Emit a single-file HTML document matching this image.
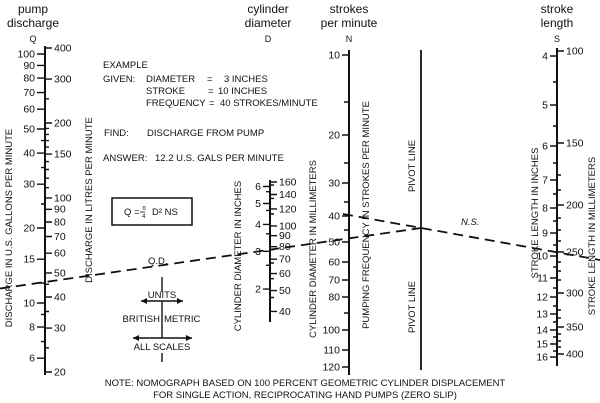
<!DOCTYPE html>
<html><head><meta charset="utf-8"><style>
html,body{margin:0;padding:0;background:#fff;}
svg{display:block;font-family:"Liberation Sans",Arial,sans-serif;fill:#111;}
</style></head><body>
<svg width="600" height="403" viewBox="0 0 600 403" xmlns="http://www.w3.org/2000/svg">
<g font-size="12" text-anchor="middle">
<text x="33" y="13">pump</text><text x="33" y="27">discharge</text><text x="33" y="42" font-size="9">Q</text>
<text x="268" y="13">cylinder</text><text x="268" y="27">diameter</text><text x="268" y="42" font-size="9">D</text>
<text x="349" y="13">strokes</text><text x="349" y="27">per minute</text><text x="349" y="42" font-size="9">N</text>
<text x="557" y="13">stroke</text><text x="557" y="27">length</text><text x="557" y="42" font-size="9">S</text>
</g>
<g stroke="#111" fill="none">
<line x1="45" y1="46" x2="45" y2="375" stroke-width="2"/>
<line x1="270" y1="180" x2="270" y2="322" stroke-width="2"/>
<line x1="349" y1="50" x2="349" y2="375" stroke-width="2"/>
<line x1="421" y1="50" x2="421" y2="370" stroke-width="1.8"/>
<line x1="557" y1="48" x2="557" y2="366" stroke-width="2"/>
<g stroke-width="1.4">
<path d="M37 54H45M37 65.4H45M37 78.1H45M37 92.6H45M37 109.2H45M37 129H45M37 153.1H45M37 184.2H45M37 228H45M37 259.2H45M37 303H45M37 327.1H45M37 358.2H45"/>
<path d="M41 341.6H45M41 314.4H45M41 204H45M41 167.6H45M41 140.6H45M41 283H45"/>
<path d="M45 48H52M45 79.1H52M45 123H52M45 154.1H52M45 197.9H52M45 209.3H52M45 222H52M45 236.5H52M45 253.2H52M45 272.9H52M45 297H52M45 328.1H52M45 372H52"/>
<path d="M45 347.8H49M45 311.5H49M45 284.3H49M45 187.7H49M45 178.2H49M45 169.5H49M45 161.6H49M45 147.1H49M45 140.6H49M45 134.4H49M45 128.4H49M45 98.8H49"/>
<path d="M263 186.5H270M263 203.5H270M263 224.4H270M263 251.3H270M263 289.1H270"/>
<path d="M266 191.7H270M266 210.4H270M266 233.8H270M266 265.3H270"/>
<path d="M270 182H277M270 194.5H277M270 208.9H277M270 225.9H277M270 235.7H277M270 246.7H277M270 259.2H277M270 273.6H277M270 290.6H277M270 311.4H277"/>
<path d="M270 185H274M270 198.4H274M270 214H274M270 249.7H274M270 263H274M270 278.7H274M270 297.5H274"/>
<path d="M342 55H349M342 135H349M342 183H349M342 216H349M342 242H349M342 262H349M342 280H349M342 297H349M342 330H349M342 350H349M342 367H349"/>
<path d="M344 102H349M344 163H349M344 202H349M344 230H349M344 313H349"/>
<path d="M550 56H557M550 105H557M550 146H557M550 180H557M550 208H557M550 233H557M550 256H557M550 278H557M550 297H557M550 314H557M550 330H557M550 344H557M550 357H557"/>
<path d="M553 82H557M553 126H557M553 163H557M553 194H557M553 221H557M553 245H557M553 267H557M553 288H557M553 306H557M553 322H557M553 337H557M553 351H557"/>
<path d="M557 51H564M557 143H564M557 205H564M557 252H564M557 293H564M557 327H564M557 354H564"/>
<path d="M557 175H561M557 190H561M557 218H561M557 230H561M557 241H561M557 262H561M557 271H561M557 280H561M557 310H561M557 318H561M557 334H561M557 341H561M557 347H561"/>
</g>
<line x1="0" y1="288.5" x2="421" y2="228" stroke-width="1.8" stroke-dasharray="10,6"/>
<line x1="343" y1="214" x2="600" y2="260" stroke-width="1.8" stroke-dasharray="10,6"/>
<rect x="112" y="198" width="80" height="27" stroke-width="1.5"/>
<g stroke-width="1.4">
<path d="M162 277V292M162 301V338M162 353V362"/>
<path d="M141 301H183M133 338H192"/>
</g>
</g>
<g fill="#111">
<path d="M141 301l6-3v6zM183 301l-6-3v6zM133 338l6-3v6zM192 338l-6-3v6z"/>
</g>
<g font-size="10.5" text-anchor="end">
<text x="35" y="57.5">100</text><text x="35" y="69">90</text><text x="35" y="81.5">80</text><text x="35" y="96">70</text><text x="35" y="112.5">60</text><text x="35" y="132.5">50</text><text x="35" y="156.5">40</text><text x="35" y="187.5">30</text><text x="35" y="231.5">20</text><text x="35" y="262.5">15</text><text x="35" y="306.5">10</text><text x="35" y="330.5">8</text><text x="35" y="361.5">6</text>
<text x="261" y="190">6</text><text x="261" y="207">5</text><text x="261" y="228">4</text><text x="261" y="255">3</text><text x="261" y="292.5">2</text>
<text x="340" y="58.5">10</text><text x="340" y="138.5">20</text><text x="340" y="186.5">30</text><text x="340" y="219.5">40</text><text x="340" y="245.5">50</text><text x="340" y="265.5">60</text><text x="340" y="283.5">70</text><text x="340" y="300.5">80</text><text x="340" y="333.5">100</text><text x="340" y="353.5">110</text><text x="340" y="370.5">120</text>
<text x="548" y="59.5">4</text><text x="548" y="108.5">5</text><text x="548" y="149.5">6</text><text x="548" y="183.5">7</text><text x="548" y="211.5">8</text><text x="548" y="236.5">9</text><text x="548" y="259.5">10</text><text x="548" y="281.5">11</text><text x="548" y="300.5">12</text><text x="548" y="317.5">13</text><text x="548" y="333.5">14</text><text x="548" y="347.5">15</text><text x="548" y="360.5">16</text>
</g>
<g font-size="10.5">
<text x="54" y="51.5">400</text><text x="54" y="82.5">300</text><text x="54" y="126.5">200</text><text x="54" y="157.5">150</text><text x="54" y="201.5">100</text><text x="54" y="212.5">90</text><text x="54" y="225.5">80</text><text x="54" y="240">70</text><text x="54" y="256.5">60</text><text x="54" y="276.5">50</text><text x="54" y="300.5">40</text><text x="54" y="331.5">30</text><text x="54" y="375.5">20</text>
<text x="279" y="185.5">160</text><text x="279" y="198">140</text><text x="279" y="212.5">120</text><text x="279" y="229.5">100</text><text x="279" y="239">90</text><text x="279" y="250">80</text><text x="279" y="262.5">70</text><text x="279" y="277">60</text><text x="279" y="294">50</text><text x="279" y="315">40</text>
<text x="566" y="54.5">100</text><text x="566" y="146.5">150</text><text x="566" y="208.5">200</text><text x="566" y="255.5">250</text><text x="566" y="296.5">300</text><text x="566" y="330.5">350</text><text x="566" y="357.5">400</text>
</g>
<g font-size="9.5">
<text transform="translate(12,228) rotate(-90)" text-anchor="middle">DISCHARGE IN U.S. GALLONS PER MINUTE</text>
<text transform="translate(92,200) rotate(-90)" text-anchor="middle">DISCHARGE IN LITRES PER MINUTE</text>
<text transform="translate(241,256) rotate(-90)" text-anchor="middle">CYLINDER DIAMETER IN INCHES</text>
<text transform="translate(316,249) rotate(-90)" text-anchor="middle">CYLINDER DIAMETER IN MILLIMETERS</text>
<text transform="translate(369,215) rotate(-90)" text-anchor="middle">PUMPING FREQUENCY IN STROKES PER MINUTE</text>
<text transform="translate(415,166) rotate(-90)" text-anchor="middle">PIVOT LINE</text>
<text transform="translate(415,307) rotate(-90)" text-anchor="middle">PIVOT LINE</text>
<text transform="translate(538,213) rotate(-90)" text-anchor="middle">STROKE   LENGTH IN INCHES</text>
<text transform="translate(595,236) rotate(-90)" text-anchor="middle">STROKE LENGTH IN MILLIMETERS</text>
<text x="103" y="68">EXAMPLE</text>
<text x="103" y="82">GIVEN:</text><text x="146" y="82">DIAMETER</text><text x="207" y="82">=</text><text x="224" y="82">3 INCHES</text>
<text x="146" y="94">STROKE</text><text x="208" y="94">=</text><text x="218" y="94">10 INCHES</text>
<text x="146" y="106">FREQUENCY</text><text x="209" y="106">=</text><text x="220" y="106">40 STROKES/MINUTE</text>
<text x="104" y="136">FIND:</text><text x="147" y="136">DISCHARGE FROM PUMP</text>
<text x="103" y="161">ANSWER:</text><text x="155" y="161">12.2 U.S. GALS PER MINUTE</text>
<text x="124" y="215">Q =</text><text x="142" y="210" font-size="6">π</text><text x="142" y="218" font-size="6">4</text><text x="152" y="215">D² NS</text>
<text x="162" y="298" text-anchor="middle">UNITS</text>
<text x="160" y="322" text-anchor="end">BRITISH</text><text x="164" y="322">METRIC</text>
<text x="162" y="350" text-anchor="middle">ALL SCALES</text>
<text x="148" y="264">Q.D.</text>
<text x="461" y="225" font-style="italic">N.S.</text>
<text x="305" y="386" text-anchor="middle">NOTE: NOMOGRAPH BASED ON 100 PERCENT GEOMETRIC CYLINDER DISPLACEMENT</text>
<text x="305" y="398" text-anchor="middle">FOR SINGLE ACTION, RECIPROCATING HAND PUMPS (ZERO SLIP)</text>
</g>
<line x1="140" y1="212" x2="145" y2="212" stroke="#111" stroke-width="0.8"/>
</svg>
</body></html>
